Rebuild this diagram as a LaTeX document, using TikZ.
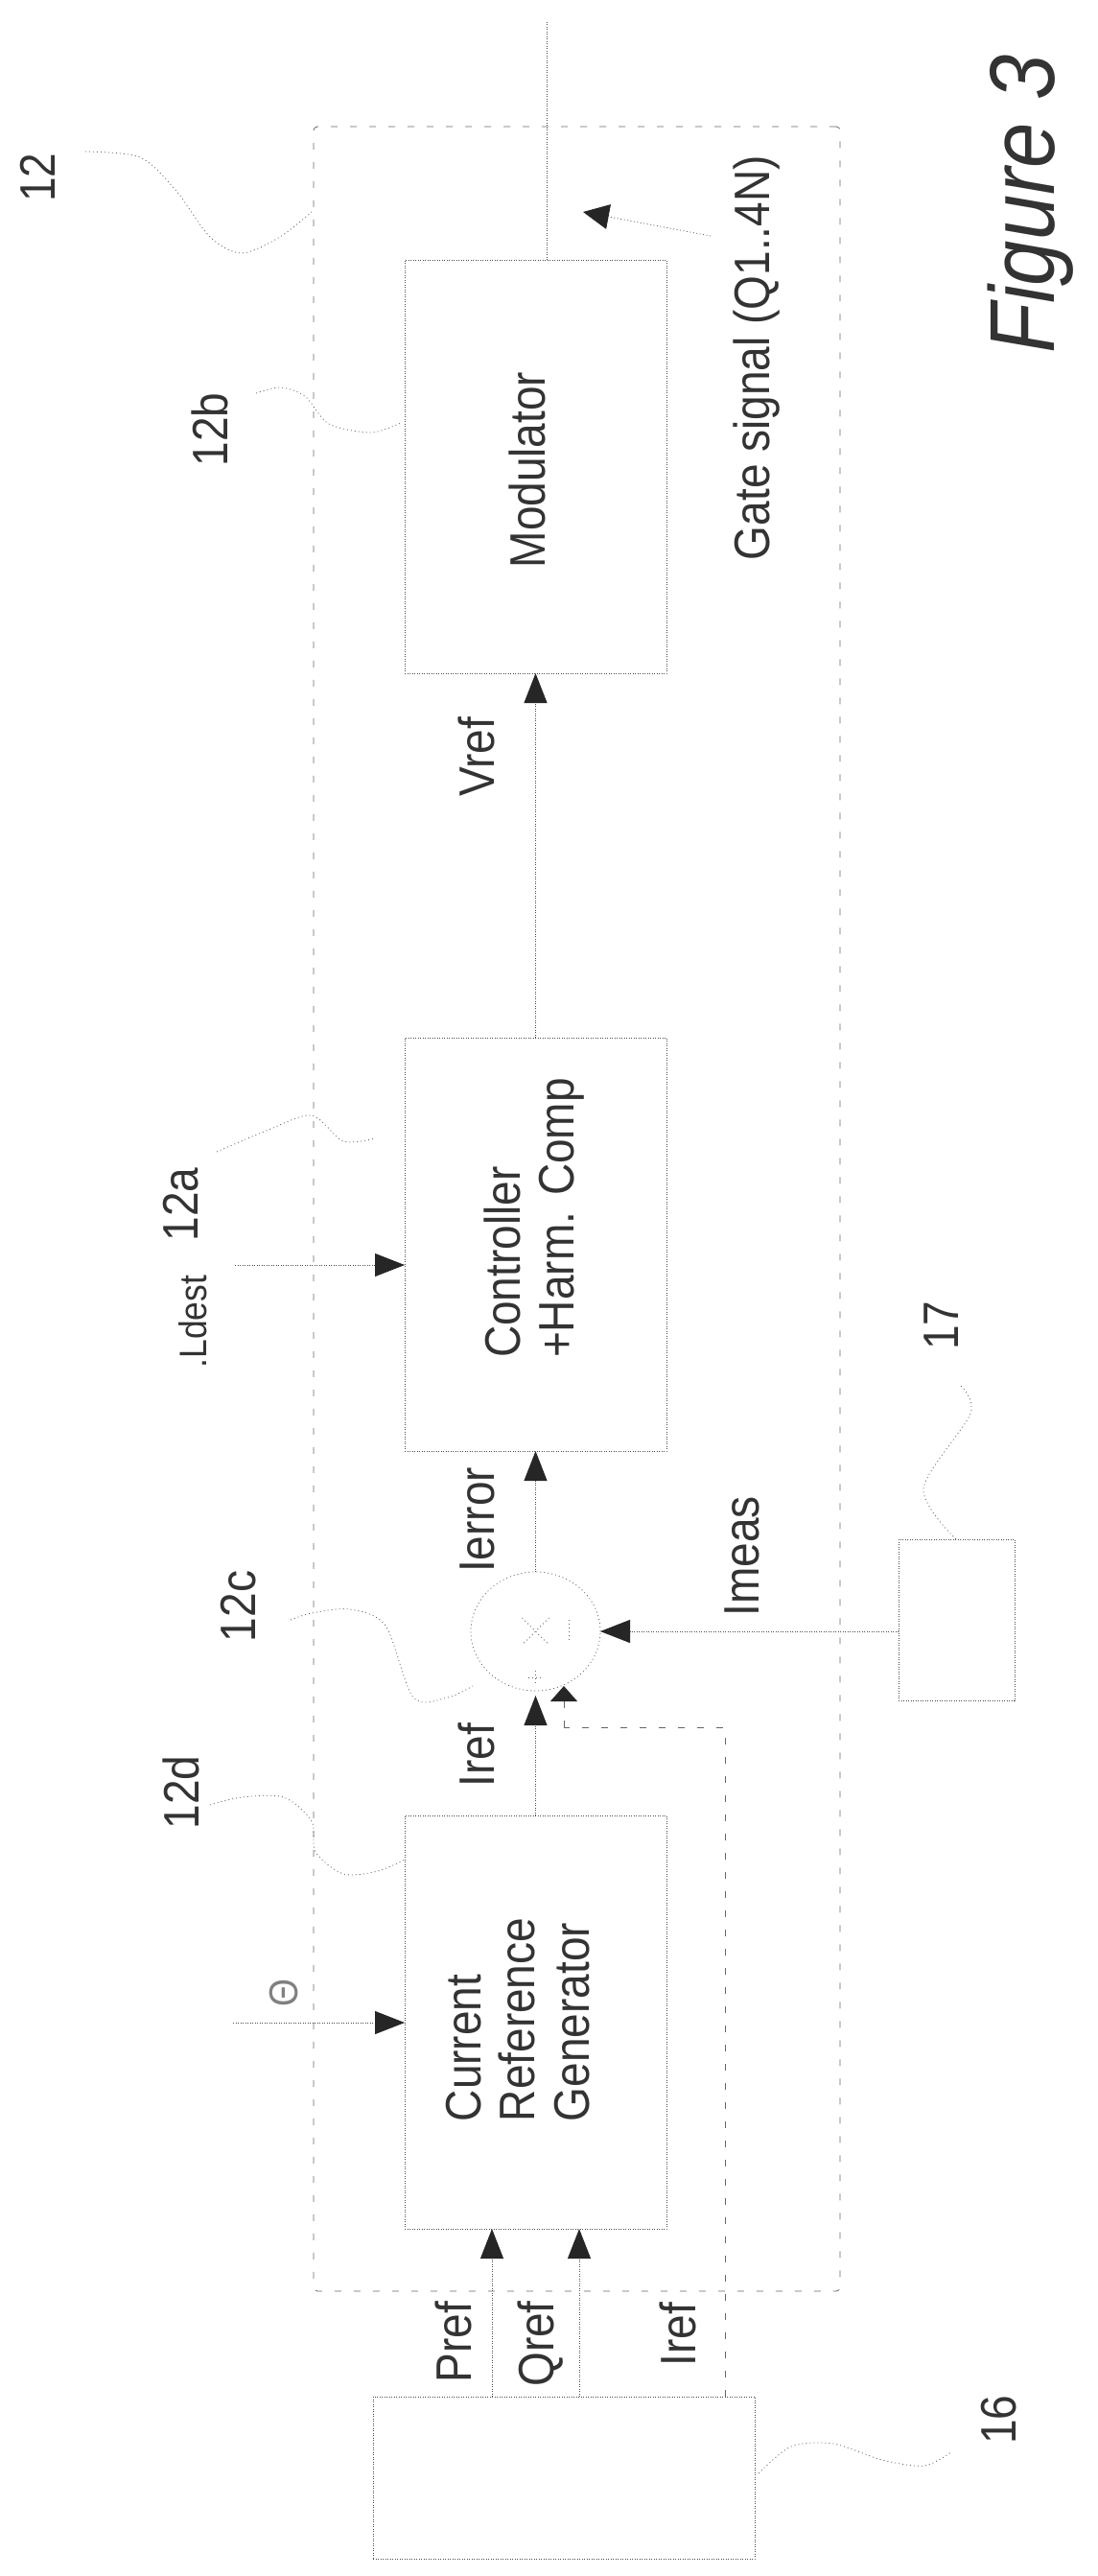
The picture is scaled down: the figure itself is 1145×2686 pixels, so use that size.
\documentclass[tikz,border=0pt]{standalone}
\usepackage{fontspec}
\setmainfont{Liberation Sans}[FakeStretch=0.885]
\usetikzlibrary{arrows.meta,positioning,shapes.geometric}
\tikzset{
    block/.style={rectangle,draw=black!70,line width=1pt,dash pattern=on 1pt off 1.5pt,minimum width=273pt,minimum height=431pt,inner sep=0pt,outer sep=0pt},
    plainbox/.style={rectangle,draw=black!70,line width=1pt,dash pattern=on 1pt off 1.5pt,inner sep=0pt,outer sep=0pt},
    unitbox/.style={rectangle,draw=black!60,line width=.8pt,dash pattern=on 7pt off 13pt,rounded corners=4pt,inner sep=0pt,outer sep=0pt},
    junction/.style={ellipse,draw=black!60,line width=.8pt,dash pattern=on 1pt off 3pt,minimum width=135pt,minimum height=124pt,inner sep=0pt,outer sep=0pt},
    wire/.style={draw=black!70,line width=1pt,dash pattern=on 1pt off 1.5pt},
    sig/.style={wire,-{Triangle[length=31pt,width=24pt,color=black!85]}},
    sigshort/.style={draw=black!60,line width=.8pt,dash pattern=on 7pt off 13pt,-{Triangle[length=16pt,width=28pt,color=black!85]}},
    sigangle/.style={draw=black!60,line width=.8pt,dash pattern=on 1pt off 2.5pt,-{Triangle[length=27pt,width=26pt,color=black!85]}},
    fbline/.style={draw=black!60,line width=.8pt,dash pattern=on 7pt off 13pt},
    leadline/.style={draw=black!60,line width=.8pt,dash pattern=on 1pt off 3pt},
    lbl/.style={rotate=90,inner sep=0pt,text=black!80,font=\fontsize{52}{56.5}\selectfont,align=left},
    smalllbl/.style={lbl,font=\fontsize{40}{44}\selectfont},
    glyphlbl/.style={lbl,text=black!50,font=\fontsize{42}{44}\selectfont},
    figlbl/.style={lbl,font=\fontsize{96}{100}\selectfont\itshape}
}

\begin{document}
\begin{tikzpicture}[x=1pt,y=-1pt]

                \useasboundingbox (0,0) rectangle (1145,2686);

                \node[unitbox,minimum width=549pt,minimum height=2257pt] (unit) at (601.5,1260.5) {};

                \node[block] (modulator) at (558.5,486.5) {};
                \node[block] (controller) [below=380pt of modulator] {};
                \node[block] (generator) [below=380pt of controller] {};
                \node[junction] (sum) [below=126pt of controller] {};

                \node[plainbox,minimum width=398pt,minimum height=169pt] (source) at (588,2583.5) {};
                \node[plainbox,minimum width=121pt,minimum height=168pt] (sensor) at (997.5,1689) {};

                \node[lbl] (modtext) at (550,490) {Modulator};
                \node[lbl] (ctrltext) at (557,1270) {Controller\\+Harm. Comp};
                \node[lbl] (gentext) at (540,2106) {Current\\Reference\\Generator};

                \node[lbl] (gatetext) at (789,373) {Gate signal (Q1..4N)};
                \node[lbl] (vreftext) at (497,789) {Vref};
                \node[lbl] (errtext) at (498,1585) {Ierror};
                \node[lbl] (ireftext) at (497,1830) {Iref};
                \node[lbl] (meastext) at (774,1623) {Imeas};
                \node[lbl] (preftext) at (473,2442) {Pref};
                \node[lbl] (qreftext) at (564,2444) {Qref};
                \node[lbl] (irefsrc) at (707,2434) {Iref};
                \node[smalllbl] (besttext) at (201,1378) {.Ldest};
                \node[glyphlbl] (thetatext) at (296,2078) {Θ};

                \node[lbl] (n12) at (39,185) {12};
                \node[lbl] (n12b) at (219,448) {12b};
                \node[lbl] (n12a) at (189,1256) {12a};
                \node[lbl] (n12c) at (249,1675) {12c};
                \node[lbl] (n12d) at (189,1869) {12d};
                \node[lbl] (n16) at (1042,2523) {16};
                \node[lbl] (n17) at (982,1382) {17};
                \node[figlbl] (figtext) at (1075,213) {Figure 3};

                \coordinate (gateout) at (570,22);
                \coordinate (gatefoot) at (570,271);
                \coordinate (gatetail) at (741,246);
                \coordinate (gatetip) at (608,221);
                \coordinate (bestin) at (245,1319);
                \coordinate (bestend) at (422,1319);
                \coordinate (thetain) at (243,2109);
                \coordinate (thetaend) at (422,2109);
                \coordinate (prefin) at (513,2324);
                \coordinate (qrefin) at (604,2324);
                \coordinate (fbstart) at (756,2499);
                \coordinate (fbcorner) at (588,1801);
                \coordinate (fbend) at (588,1758);

                \draw[wire] (gatefoot) -- (gateout);
                \draw[sigangle] (gatetail) -- (gatetip);
                \draw[sig] (controller) -- (modulator);
                \draw[sig] (sum) -- (controller);
                \draw[sig,shorten >=5pt] (generator) -- (sum);
                \draw[sig] (sensor.west |- sum) -- (sum);
                \draw[sig] (bestin) -- (bestend);
                \draw[sig] (thetain) -- (thetaend);
                \draw[sig] (prefin |- source.north) -- (prefin);
                \draw[sig] (qrefin |- source.north) -- (qrefin);
                \draw[fbline] (fbstart) |- (fbcorner);
                \draw[sigshort] (fbcorner) -- (fbend);

                \draw[leadline] ([shift={(-14,-14)}]sum.center) -- ([shift={(14,14)}]sum.center);
                \draw[leadline] ([shift={(14,-14)}]sum.center) -- ([shift={(-14,14)}]sum.center);
                \draw[leadline] ([shift={(35,-12)}]sum.center) -- ([shift={(35,12)}]sum.center);
                \draw[leadline] ([shift={(-8,48)}]sum.center) -- ([shift={(8,48)}]sum.center);
                \draw[leadline] ([shift={(0,41)}]sum.center) -- ([shift={(0,55)}]sum.center);

                \draw[leadline] plot[smooth] coordinates {(89,158) (146,164) (183,198) (219,247) (252,264) (292,247) (325,221)};
                \draw[leadline] plot[smooth] coordinates {(267,410) (292,404) (318,413) (343,442) (387,451) (418,441)};
                \draw[leadline] plot[smooth] coordinates {(226,1201) (280,1178) (325,1163) (358,1190) (391,1187)};
                \draw[leadline] plot[smooth] coordinates {(303,1689) (325,1682) (365,1678) (402,1695) (431,1770) (467,1770) (493,1758)};
                \draw[leadline] plot[smooth] coordinates {(219,1882) (252,1874) (296,1874) (325,1899) (329,1931) (358,1954) (394,1951) (422,1939)};
                \draw[leadline] plot[smooth] coordinates {(791,2579) (825,2551) (869,2548) (920,2565) (964,2571) (993,2556)};
                \draw[leadline] plot[smooth] coordinates {(997,1605) (963,1552) (1012,1474) (1002,1445)};

\end{tikzpicture}
\end{document}
